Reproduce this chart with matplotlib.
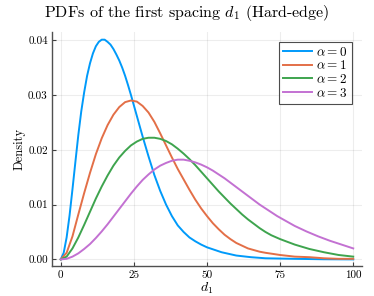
import numpy as np
import matplotlib
matplotlib.use("Agg")
import matplotlib.pyplot as plt

# values
d_blue = [0, 1, 2, 3, 4, 5, 6, 7, 8, 9, 10, 11, 12, 13, 14, 15, 16, 17, 18, 19, 20,
          21, 22, 23, 24, 25, 26, 28, 30, 32, 34, 36, 38, 40, 42, 44, 46, 48, 50, 55,
          60, 65, 70, 80, 90, 100]
p_blue = [0.0, 0.0012, 0.0040, 0.0080, 0.0128, 0.0178, 0.0227, 0.0270, 0.0305, 0.0335,
          0.0358, 0.0376, 0.0389, 0.0397, 0.0401, 0.0401, 0.0397, 0.0392, 0.0384, 0.0374,
          0.0363, 0.0350, 0.0335, 0.0318, 0.0300, 0.0281, 0.0262, 0.0224, 0.0188, 0.0154,
          0.0125, 0.0100, 0.0079, 0.0062, 0.0050, 0.0040, 0.0033, 0.0027, 0.0022, 0.0013,
          0.0007, 0.0004, 0.0002, 0.0001, 0.00002, 0.0]

d_orange = [0, 2, 4, 6, 8, 10, 12, 14, 16, 18, 20, 22, 24, 26, 28, 30, 32, 34, 36, 38,
            40, 42, 44, 46, 48, 50, 52, 54, 56, 58, 60, 62, 64, 66, 68, 70, 75, 80,
            85, 90, 95, 100]
p_orange = [0.0, 0.0012, 0.0042, 0.0082, 0.0121, 0.0158, 0.0192, 0.0221, 0.0245, 0.0264,
            0.0278, 0.0287, 0.0290, 0.0288, 0.0280, 0.0268, 0.0251, 0.0230, 0.0208, 0.0186,
            0.0165, 0.0146, 0.0127, 0.0109, 0.0093, 0.0079, 0.0066, 0.0055, 0.0045, 0.0037,
            0.0030, 0.0025, 0.0020, 0.0017, 0.0014, 0.0012, 0.0008, 0.0005,
            0.0004, 0.0002, 0.0001, 0.0001]

d_green = [0, 2, 4, 6, 8, 10, 12, 14, 16, 18, 20, 22, 24, 26, 28, 30, 32, 34, 36, 38,
           40, 42, 44, 46, 48, 50, 52, 54, 56, 58, 60, 62, 64, 66, 68, 70, 72, 75, 80,
           85, 90, 95, 100]
p_green = [0.0, 0.0005, 0.0020, 0.0040, 0.0063, 0.0087, 0.0111, 0.0133, 0.0153, 0.0171,
           0.0186, 0.0198, 0.0208, 0.0215, 0.0220, 0.0222, 0.0222, 0.0220, 0.0216, 0.0210,
           0.0202, 0.0193, 0.0183, 0.0172, 0.0160, 0.0148, 0.0136, 0.0124, 0.0113, 0.0102,
           0.0092, 0.0082, 0.0073, 0.0065, 0.0057, 0.0050, 0.0044, 0.0037, 0.0027,
           0.0019, 0.0013, 0.0008, 0.0005]

d_purple = [0, 2, 4, 6, 8, 10, 12, 14, 16, 18, 20, 22, 24, 26, 28, 30, 32, 34, 36, 38,
            40, 42, 44, 46, 48, 50, 52, 54, 56, 58, 60, 62, 64, 66, 68, 70, 72, 74, 76,
            78, 80, 84, 88, 92, 96, 100]
p_purple = [0.0, 0.0001, 0.0005, 0.0011, 0.0019, 0.0028, 0.0039, 0.0051, 0.0064, 0.0078,
            0.0092, 0.0106, 0.0120, 0.0133, 0.0145, 0.0155, 0.0164, 0.0171, 0.0176, 0.0180,
            0.0182, 0.0182, 0.0180, 0.0177, 0.0173, 0.0168, 0.0162, 0.0155, 0.0148, 0.0140,
            0.0132, 0.0124, 0.0116, 0.0108, 0.0100, 0.0093, 0.0086, 0.0079, 0.0073,
            0.0067, 0.0061, 0.0051, 0.0042, 0.0034, 0.0027, 0.0020]

series = [(d_blue, p_blue, "#009AFA", r"$\alpha = 0$"),
          (d_orange, p_orange, "#E36F47", r"$\alpha = 1$"),
          (d_green, p_green, "#3EA44E", r"$\alpha = 2$"),
          (d_purple, p_purple, "#C371D2", r"$\alpha = 3$")]

x_ticks = [0, 25, 50, 75, 100]
y_ticks = [0.00, 0.01, 0.02, 0.03, 0.04]

plt.rcParams["font.family"] = "serif"
plt.rcParams["font.serif"] = ["cmr10", "DejaVu Serif"]
plt.rcParams["mathtext.fontset"] = "cm"
plt.rcParams["axes.unicode_minus"] = False

fig = plt.figure(figsize=(3.74, 2.96), dpi=100)
ax = fig.add_axes([52/374, 30/296, 310/374, 234/296])

for d, p, col, lab in series:
    ax.plot(d, p, "-", color=col, lw=1.4, label=lab)

ax.set_xlim(-3, 103)
ax.set_ylim(-0.00121, 0.0415)
ax.set_xticks(x_ticks)
ax.set_xticklabels([str(t) for t in x_ticks])
ax.set_yticks(y_ticks)
ax.set_yticklabels(["%.2f" % t for t in y_ticks])
ax.tick_params(direction="in", length=3, width=0.8, labelsize=8, color="#404040", pad=3)
ax.grid(True, color="#000000", alpha=0.07, lw=0.8)
ax.spines["top"].set_visible(False)
ax.spines["right"].set_visible(False)
for s in ["left", "bottom"]:
    ax.spines[s].set_color("#505050")
    ax.spines[s].set_linewidth(1.0)

fig.text(0.5, 1 - 13/296, r"PDFs of the first spacing $d_1$ (Hard-edge)", fontsize=11.5,
         ha="center", va="center")
ax.set_xlabel(r"$d_1$", fontsize=10, labelpad=1)
ax.set_ylabel("Density", fontsize=9, labelpad=2)

leg = ax.legend(loc="upper right", bbox_to_anchor=(0.975, 0.97), fontsize=9.5, frameon=True,
                fancybox=False, edgecolor="#202020", handlelength=2.2, handletextpad=0.3,
                borderpad=0.3, labelspacing=0.05, borderaxespad=0.2)
leg.get_frame().set_linewidth(0.8)

plt.savefig("out.png", dpi=100)
plt.close()
